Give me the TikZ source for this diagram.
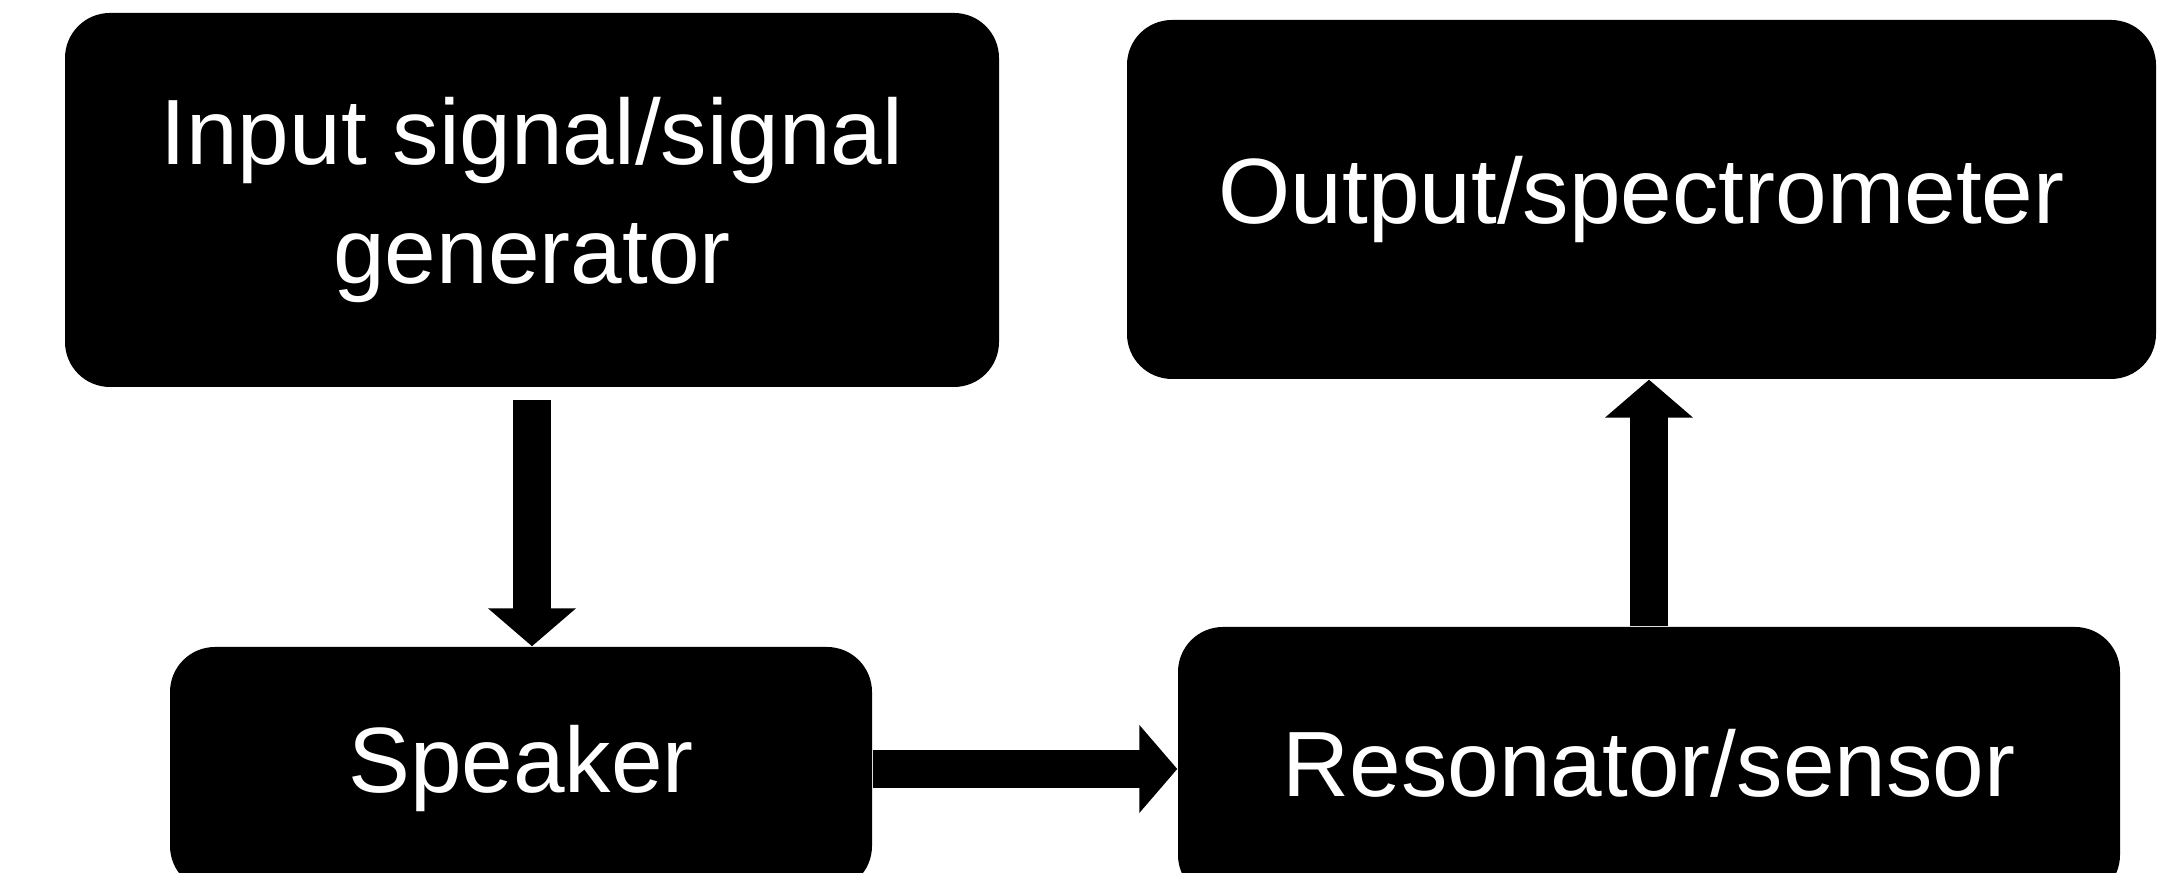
\documentclass[tikz,border=0pt]{standalone}
\usepackage{fontspec}
\setmainfont{Liberation Sans}
\usetikzlibrary{arrows.meta}

\tikzset{
    blockbox/.style={rectangle, rounded corners=0.45cm, fill=black, text=white,
        inner sep=0pt, align=center, font=\fontsize{26.4}{34}\selectfont},
    flowarrow/.style={line width=0.38cm, -{Triangle[width=0.86cm, length=0.38cm]}}
}

\begin{document}
\begin{tikzpicture}
    \clip (0, 0) rectangle (21.58, 8.73);
    \useasboundingbox (0, 0) rectangle (21.58, 8.73);

    % 1. Four blocks
    \node[blockbox, minimum width=9.34cm, minimum height=3.74cm] (gen) at (5.32, 6.73)
        {Input signal/signal\\generator};
    \node[blockbox, minimum width=10.29cm, minimum height=3.59cm] (out) at (16.415, 6.735)
        {Output/spectrometer};
    \node[blockbox, minimum width=7.02cm, minimum height=2.44cm] (spk) at (5.21, 1.04)
        {Speaker};
    \node[blockbox, minimum width=9.42cm, minimum height=2.73cm] (res) at (16.49, 1.095)
        {Resonator/sensor};

    % 2. Arrows between blocks
    \draw[flowarrow, shorten <=0.12cm] (gen.south) -- (gen.south |- spk.north);
    \draw[flowarrow] (spk.east) -- (spk.east -| res.west);
    \draw[flowarrow] (res.north) -- (res.north |- out.south);
\end{tikzpicture}
\end{document}
